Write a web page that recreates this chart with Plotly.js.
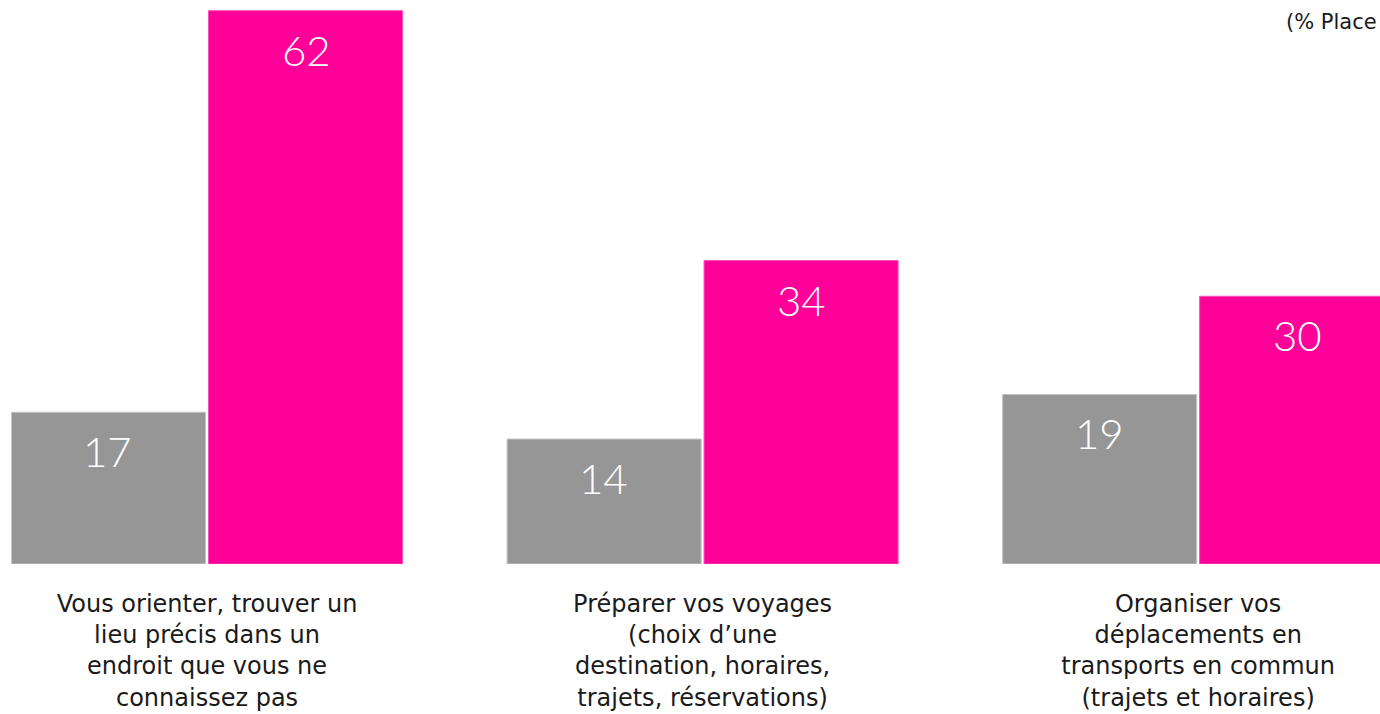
<!DOCTYPE html>
<html>
<head>
<meta charset="utf-8">
<script src="https://cdn.plot.ly/plotly-3.0.1.min.js"></script>
<style>
  html, body { margin: 0; padding: 0; background: #fff; }
  #chart { width: 1380px; height: 714px; }
</style>
</head>
<body>
<div id="chart"></div>
<script>
// categories (x positions are their index)
var categories = [
  "Vous orienter, trouver un<br>lieu précis dans un<br>endroit que vous ne<br>connaissez pas",
  "Préparer vos voyages<br>(choix d\u2019une<br>destination, horaires,<br>trajets, réservations)",
  "Organiser vos<br>déplacements en<br>transports en commun<br>(trajets et horaires)"
];
var serie_gris = [17, 14, 19];
var serie_rose = [62, 34, 30];
var note_text = "(% Place";

var cat_idx = categories.map(function (c, i) { return i; });
var label_font = "'DejaVu Sans', sans-serif";
var value_font = "Lato, 'Open Sans', sans-serif";

var trace_gris = {
  type: "bar",
  x: cat_idx,
  y: serie_gris,
  marker: { color: "#969696", line: { color: "#c4c4c4", width: 1 } },
  hoverinfo: "none",
};
var trace_rose = {
  type: "bar",
  x: cat_idx,
  y: serie_rose,
  marker: { color: "#ff0099", line: { color: "#ff4db8", width: 1 } },
  hoverinfo: "none",
};

// value labels inside the top of each bar
var annots = [];
for (var i = 0; i < cat_idx.length; i++) {
  annots.push({
    x: cat_idx[i] - 0.2, y: serie_gris[i], text: String(serie_gris[i]),
    showarrow: false, yanchor: "middle", yshift: -39,
    font: { family: value_font, size: 42, color: "#ffffff", weight: 300 },
  });
  annots.push({
    x: cat_idx[i] + 0.2, y: serie_rose[i], text: String(serie_rose[i]),
    showarrow: false, yanchor: "middle", yshift: -39,
    font: { family: value_font, size: 42, color: "#ffffff", weight: 300 },
  });
}
annots.push({
  xref: "paper", yref: "paper", x: 1284 / 1380, y: 1, xanchor: "left", yanchor: "top",
  yshift: -8, text: note_text, showarrow: false,
  font: { family: label_font, size: 21, color: "#1a1a1a" },
});

Plotly.newPlot(
  "chart",
  [trace_gris, trace_rose],
  {
    width: 1380,
    height: 714,
    margin: { l: 0, r: 0, t: 0, b: 150 },
    paper_bgcolor: "#ffffff",
    plot_bgcolor: "#ffffff",
    barmode: "group",
    bargap: 0.205,
    bargroupgap: 0.015,
    showlegend: false,
    xaxis: {
      range: [-0.4178, 2.367],
      tickvals: cat_idx,
      ticktext: categories,
      showgrid: false,
      zeroline: false,
      showline: false,
      ticks: "",
      ticklabelstandoff: 23,
      tickfont: { family: label_font, size: 24, color: "#1a1a1a" },
      fixedrange: true,
    },
    yaxis: {
      range: [0, 63.2],
      visible: false,
      fixedrange: true,
    },
    annotations: annots,
  },
  { displayModeBar: false, staticPlot: true }
);
</script>
</body>
</html>
